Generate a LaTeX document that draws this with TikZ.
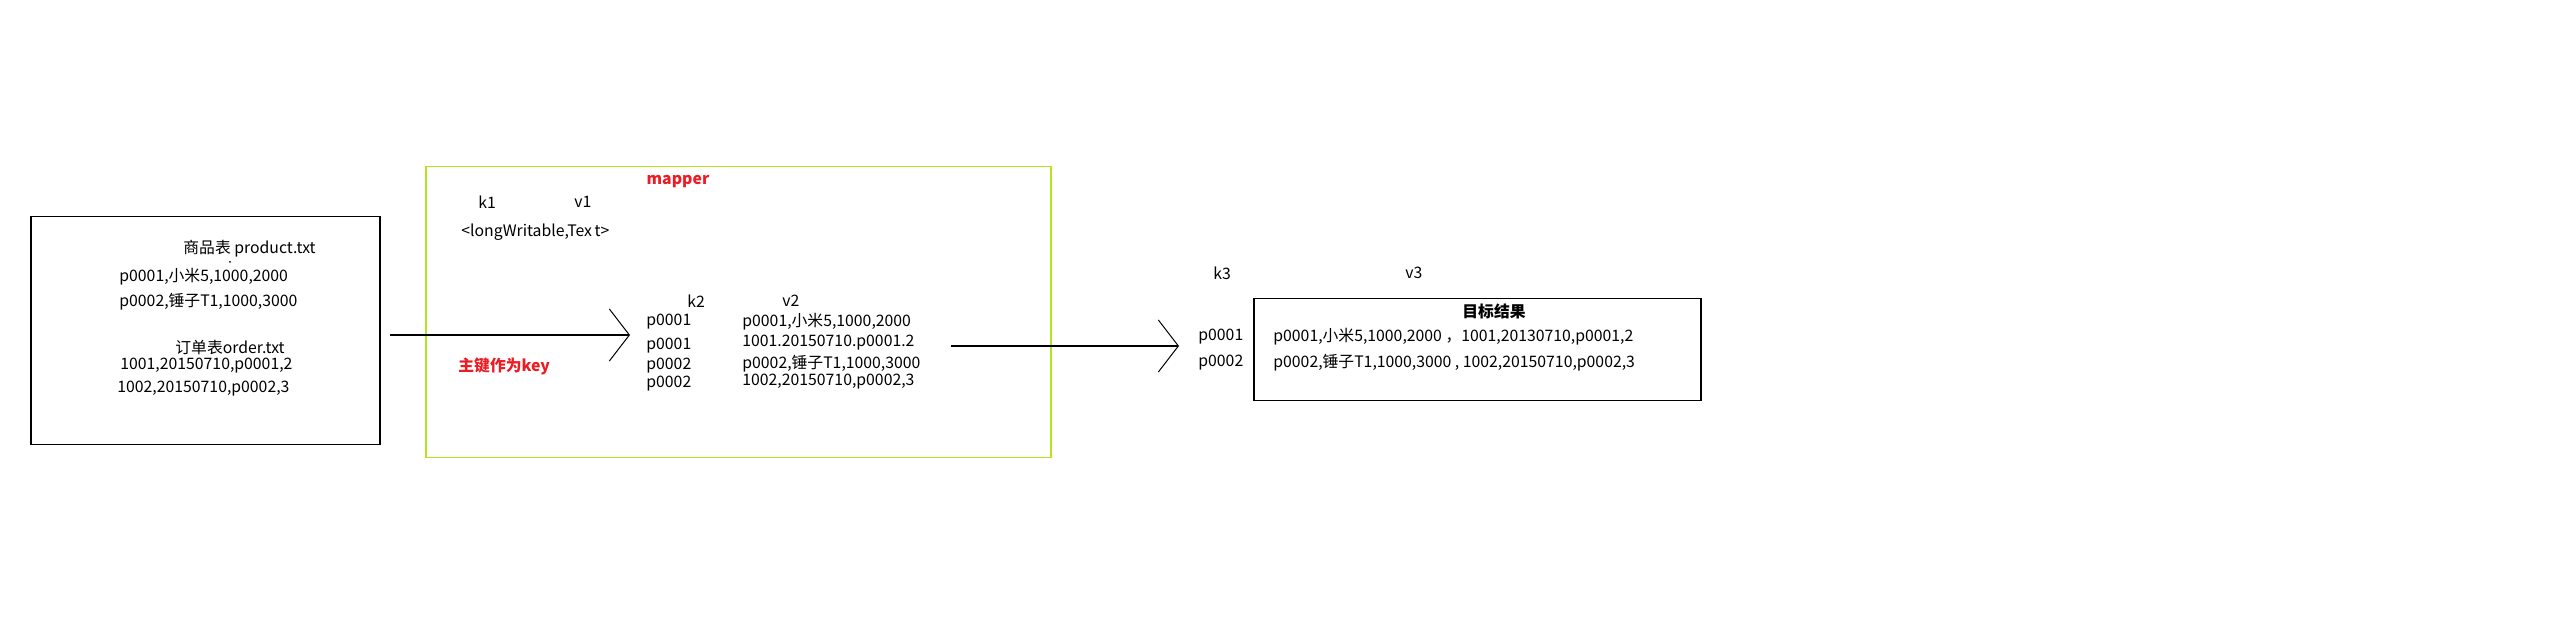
\documentclass[tikz,border=0pt]{standalone}
\usepackage{fontspec}
\setmainfont{Noto Sans CJK SC}
\usetikzlibrary{arrows.meta}
\definecolor{paintlime}{RGB}{181,230,29}
\definecolor{paintred}{RGB}{237,28,36}
\begin{document}
\begin{tikzpicture}[x=0.5pt,y=-0.5pt,
  lbl/.style={anchor=west,inner sep=0pt,font=\fontsize{7.9}{9.5}\selectfont},
  tag/.style={inner sep=0pt,text=paintred,font=\fontsize{7.9}{9.5}\selectfont\bfseries},
  frame/.style={draw,line width=0.75pt,inner sep=0pt,anchor=north west},
  flow/.style={line width=0.6pt,-{Straight Barb[length=10pt,width=26pt,line width=0.5pt]}}]
  % Coordinates are pixels of the 2556x630 sketch, y pointing down.
  \useasboundingbox (0,0) rectangle (2556,630);
  \node[frame,minimum width=174.5pt,minimum height=114pt] (inbox) at (30,216) {};
  \node[frame,draw=paintlime,minimum width=312.5pt,minimum height=145.5pt] (mapbox) at (425,166) {};
  \node[frame,minimum width=223.5pt,minimum height=51pt] (outbox) at (1253,298) {};
  \node[lbl] (ptitle) at (183,249) {商品表 product.txt};
  \fill (230,262) circle (1);
  \node[lbl] (prow1) at (119,277) {p0001,小米5,1000,2000};
  \node[lbl] (prow2) at (119,302) {p0002,锤子T1,1000,3000};
  \node[lbl] (otitle) at (175,347) {订单表order.txt};
  \node[lbl] (orow1) at (120,366) {1001,20150710,p0001,2};
  \node[lbl] (orow2) at (117,389) {1002,20150710,p0002,3};
  \node[tag] (mapper) at (678,182) {mapper};
  \node[lbl] (k1) at (478,202) {k1};
  \node[lbl] (v1) at (574,202) {v1};
  \node[lbl] (k1v1) at (461,232) {<longWritable,Tex\,t>};
  \node[tag,anchor=west] (pkey) at (458,366) {主键作为key};
  \node[lbl] (k2) at (687,301) {k2};
  \node[lbl] (v2) at (782,301) {v2};
  \foreach \i/\yk/\yv/\k/\v in {1/322/322/p0001/{p0001,小米5,1000,2000},2/346/343/p0001/{1001.20150710.p0001.2},
    3/366/364/p0002/{p0002,锤子T1,1000,3000},4/384/382/p0002/{1002,20150710,p0002,3}}{
    \node[lbl] (k2r\i) at (646,\yk) {\k};
    \node[lbl] (v2r\i) at (742,\yv) {\v};}
  \node[lbl] (k3) at (1213,273) {k3};
  \node[lbl] (v3) at (1405,273) {v3};
  \node[lbl] (k3r1) at (1198,337) {p0001};
  \node[lbl] (k3r2) at (1198,363) {p0002};
  \node[lbl,anchor=center,font=\fontsize{7.9}{9.5}\selectfont\bfseries] (result) at (1494,311) {目标结果};
  \node[lbl] (out1) at (1273,337) {p0001,小米5,1000,2000 ，1001,20130710,p0001,2};
  \node[lbl] (out2) at (1273,363) {p0002,锤子T1,1000,3000 , 1002,20150710,p0002,3};
  \coordinate (a1s) at (390,335);
  \coordinate (a1e) at (630,335);
  \coordinate (a2s) at (951,346);
  \coordinate (a2e) at (1179,346);
  \draw[flow] (a1s) -- (a1e);
  \draw[flow] (a2s) -- (a2e);
\end{tikzpicture}
\end{document}
